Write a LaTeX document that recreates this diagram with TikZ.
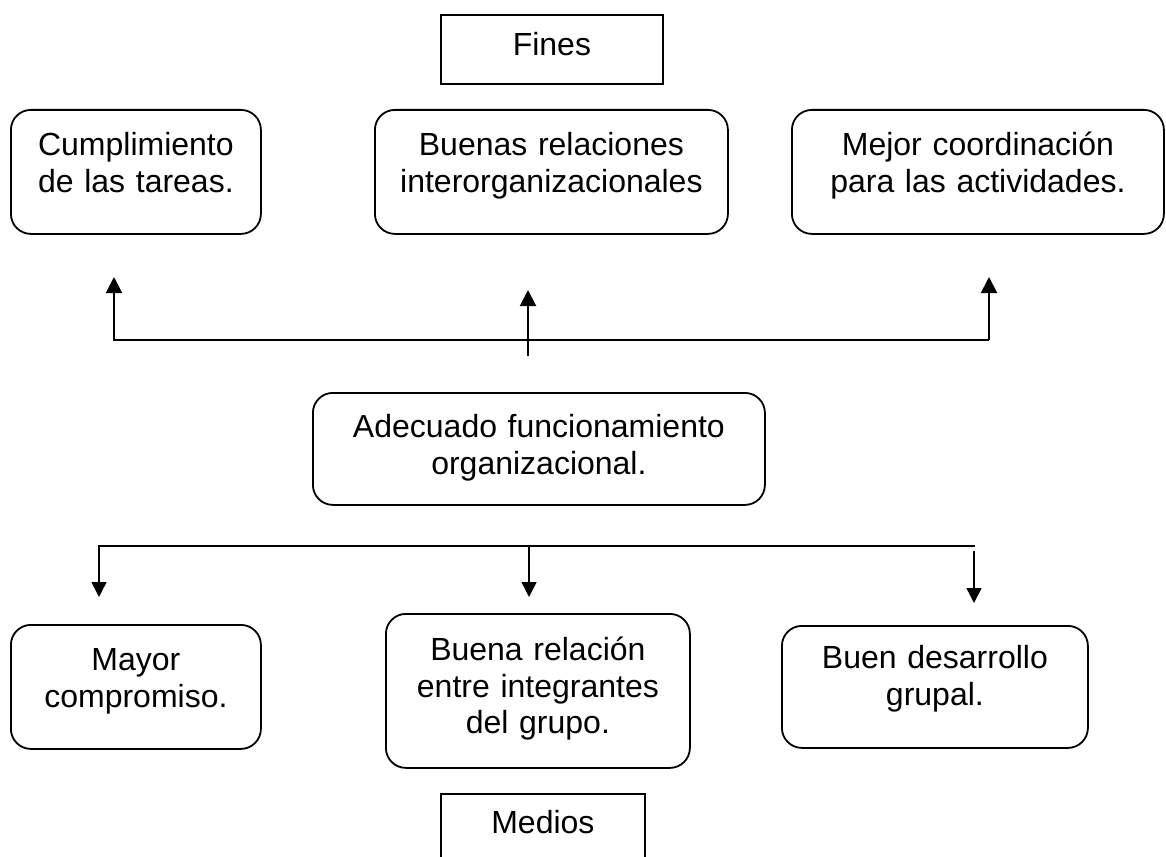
\documentclass[tikz,border=0pt]{standalone}
\usepackage{fontspec}
\setmainfont{Liberation Sans}
\usetikzlibrary{arrows.meta}
\begin{document}
\begin{tikzpicture}[x=1pt,y=-1pt,
  boxbase/.style={inner sep=0pt, anchor=north west, align=center,
    font=\fontsize{32pt}{36.5pt}\selectfont, line width=1.8pt},
  rbox/.style={boxbase, draw, rounded corners=20pt},
  sbox/.style={boxbase, draw},
  upconn/.style={line width=2pt, -{Triangle[length=16pt,width=16pt]}},
  downconn/.style={line width=1.4pt, -{Triangle[length=15pt,width=15pt]}}
]
\useasboundingbox (0,0) rectangle (1166,856);
\clip (0,0) rectangle (1166,856);

% title boxes
\node[sbox, text width=222pt, text height=41pt, text depth=28pt] (fines) at (440,14) {Fines};
\node[sbox, text width=204pt, text height=40pt, text depth=35pt] (medios) at (440,793) {Medios};

% ends
\node[rbox, text width=250pt, text height=46pt, text depth=78pt] (f1) at (10,109) {Cumplimiento\\de las tareas.};
\node[rbox, text width=353pt, text height=46pt, text depth=78pt] (f2) at (374,109) {Buenas relaciones\\interorganizacionales};
\node[rbox, text width=372pt, text height=46pt, text depth=78pt] (f3) at (791,109) {Mejor coordinación\\para las actividades.};

% central
\node[rbox, text width=452pt, text height=45pt, text depth=67pt] (mid) at (312,392) {Adecuado funcionamiento\\organizacional.};

% means
\node[rbox, text width=250pt, text height=46pt, text depth=78pt] (m1) at (10,624) {Mayor\\compromiso.};
\node[rbox, text width=304pt, text height=47pt, text depth=107pt] (m2) at (385,613) {Buena relación\\entre integrantes\\del grupo.};
\node[rbox, text width=306pt, text height=43pt, text depth=79pt] (m3) at (781,625) {Buen desarrollo\\grupal.};

% upper connector coordinates
\coordinate (ubL) at (114,340);
\coordinate (ubR) at (989,340);
\coordinate (utL) at (114,277);
\coordinate (utR) at (989,277);
\coordinate (umS) at (528,356);
\coordinate (umT) at (528,290);

\draw[upconn] (ubR) -- (ubL) -- (utL);
\draw[upconn] (ubR) -- (utR);
\draw[upconn] (umS) -- (umT);

% lower connector coordinates
\coordinate (lbL) at (99,546);
\coordinate (lbR) at (975,546);
\coordinate (ltL) at (99,597);
\coordinate (lmS) at (529,546);
\coordinate (lmT) at (529,597);
\coordinate (lrS) at (974,551);
\coordinate (lrT) at (974,603);

\draw[downconn] (lbR) -- (lbL) -- (ltL);
\draw[downconn] (lmS) -- (lmT);
\draw[downconn] (lrS) -- (lrT);
\end{tikzpicture}
\end{document}
